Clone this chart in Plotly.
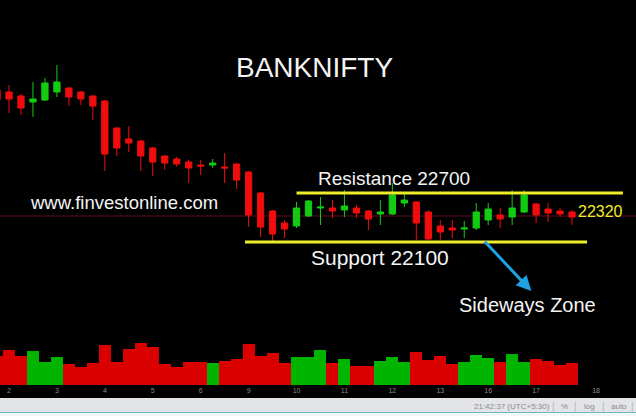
import plotly.graph_objects as go

# ---------------- data ----------------
opens  = [23580, 23560, 23520, 23460, 23480, 23560, 23600, 23560, 23520, 23470,
          23200, 23090, 23070, 23000, 22920, 22890, 22860, 22830, 22830, 22810,
          22840, 22760, 22550, 22370, 22250, 22220, 22320, 22400, 22400, 22380,
          22400, 22370, 22340, 22340, 22450, 22460, 22360, 22220, 22200, 22190,
          22200, 22280, 22330, 22310, 22360, 22440, 22390, 22370, 22360]
highs  = [23620, 23630, 23540, 23660, 23700, 23830, 23610, 23570, 23530, 23480,
          23210, 23220, 23080, 23010, 22930, 22910, 22880, 22880, 22890, 22950,
          22850, 22770, 22560, 22380, 22280, 22460, 22480, 22510, 22480, 22580,
          22430, 22380, 22480, 22650, 22550, 22470, 22380, 22280, 22280, 22270,
          22450, 22450, 22400, 22580, 22580, 22450, 22450, 22400, 22380]
lows   = [23440, 23350, 23330, 23310, 23470, 23510, 23420, 23430, 23280, 22770,
          22920, 22960, 22770, 22720, 22780, 22810, 22650, 22730, 22800, 22650,
          22590, 22210, 22110, 22070, 22100, 22200, 22310, 22230, 22300, 22310,
          22300, 22180, 22230, 22330, 22410, 22080, 22080, 22080, 22100, 22100,
          22180, 22230, 22200, 22230, 22350, 22250, 22260, 22310, 22230]
closes = [23480, 23490, 23400, 23490, 23650, 23660, 23510, 23490, 23420, 22940,
          23000, 23050, 22920, 22860, 22850, 22840, 22800, 22820, 22850, 22800,
          22680, 22330, 22210, 22140, 22190, 22400, 22470, 22410, 22370, 22420,
          22350, 22290, 22360, 22530, 22480, 22250, 22090, 22160, 22180, 22200,
          22360, 22390, 22290, 22400, 22530, 22330, 22350, 22340, 22310]
volumes = [29, 35, 29, 34, 23, 28, 21, 18, 22, 40, 23, 36, 42, 38, 21, 18, 23, 23,
           22, 24, 26, 41, 29, 32, 22, 28, 28, 35, 22, 26, 19, 19, 24, 28, 23, 33,
           25, 29, 21, 23, 30, 27, 23, 31, 23, 26, 24, 20, 22]
bars = list(range(len(opens)))

tick_positions = [1, 5, 9, 13, 17, 21, 25, 29, 33, 37, 41, 45, 50]
tick_labels = ["2", "3", "4", "5", "6", "9", "10", "11", "12", "13", "16", "17", "18"]

last_price = 22320
resistance_level = 22550
support_level = 22060
resistance_span = [25.0, 52.25]
support_span = [20.7, 49.25]

# ---------------- style ----------------
W, H = 636, 416
RED = "#f00d0d"
GREEN = "#12cc12"
VRED = "#da0000"
VGREEN = "#00b400"
YELLOW = "#eded2a"
FONT = "Liberation Sans, Arial, sans-serif"


def py(pixel):
    return 1 - pixel / H


vol_colors = [VGREEN if c >= o else VRED for o, c in zip(opens, closes)]

fig = go.Figure()
fig.add_trace(go.Bar(
    x=bars, y=volumes, width=1.0, marker=dict(color=vol_colors, line=dict(width=0)),
    yaxis="y2", showlegend=False, hoverinfo="skip"))
fig.add_trace(go.Candlestick(
    x=bars, open=opens, high=highs, low=lows, close=closes,
    increasing=dict(fillcolor=GREEN, line=dict(color=GREEN, width=1)),
    decreasing=dict(fillcolor=RED, line=dict(color=RED, width=1)),
    whiskerwidth=0, showlegend=False))

shapes = [
    # price line
    dict(type="line", xref="paper", x0=0, x1=1, yref="y", y0=last_price, y1=last_price,
         line=dict(color="#5e0f1c", width=1), layer="below"),
    # resistance / support drawings
    dict(type="line", xref="x", x0=resistance_span[0], x1=resistance_span[1], yref="y",
         y0=resistance_level, y1=resistance_level, line=dict(color=YELLOW, width=3)),
    dict(type="line", xref="x", x0=support_span[0], x1=support_span[1], yref="y",
         y0=support_level, y1=support_level, line=dict(color=YELLOW, width=3)),
    # bottom status bar
    dict(type="rect", xref="paper", yref="paper", x0=0, x1=1, y0=0, y1=py(398),
         fillcolor="#e3e4e8", line=dict(width=0)),
    dict(type="rect", xref="paper", yref="paper", x0=0, x1=1, y0=0, y1=py(413),
         fillcolor="#f4f6f8", line=dict(width=0)),
    dict(type="line", xref="paper", yref="paper", x0=0, x1=1, y0=py(412.5), y1=py(412.5),
         line=dict(color="#6cb8c8", width=1)),
]

ann = []


def txt(s, x, y, size, color="#f4f4f4", xanchor="center"):
    ann.append(dict(text=s, x=x / W, y=py(y), xref="paper", yref="paper", showarrow=False,
                    xanchor=xanchor, yanchor="middle",
                    font=dict(family=FONT, size=size, color=color)))


txt("BANKNIFTY", 314, 68, 28)
txt("Resistance 22700", 394, 178, 19)
txt("www.finvestonline.com", 124, 203, 18.5)
txt("Support 22100", 380, 257, 21)
txt(f"{last_price}", 600, 211, 16, color=YELLOW)
txt("Sideways Zone", 527, 305, 20)

# status bar texts
sb_col = "#8a8a8a"
txt("21:42:37 (UTC+5:30)", 512, 406, 8, color=sb_col)
for s, x in [("|", 553), ("%", 564), ("|", 575), ("log", 589), ("|", 603), ("auto", 619), ("|", 632)]:
    txt(s, x, 406, 8 if s != "|" else 10, color=sb_col if s != "|" else "#b8b8b8")

# arrow
ann.append(dict(x=44.6, y=21570, xref="x", yref="y", ax=-48, ay=-51, axref="pixel", ayref="pixel",
                text="", showarrow=True, arrowhead=2, arrowsize=1, arrowwidth=3,
                arrowcolor="#1fa2e2"))

x0 = 1 - 9 / 11.98
x1 = 1 + (W - 9) / 11.98

fig.update_layout(
    width=W, height=H, margin=dict(l=0, r=0, t=0, b=0),
    paper_bgcolor="#000000", plot_bgcolor="#000000",
    xaxis=dict(range=[x0, x1], domain=[0, 1], anchor="y", showgrid=False, zeroline=False,
               showline=False, tickvals=tick_positions, ticktext=tick_labels, ticks="",
               tickfont=dict(family=FONT, size=7, color="#8a8a8a"),
               rangeslider=dict(visible=False), fixedrange=True),
    yaxis=dict(domain=[py(385), 1], range=[24480 - 10 * 385, 24480], visible=False,
               showgrid=False, zeroline=False),
    yaxis2=dict(overlaying="y", range=[0, 385], visible=False, showgrid=False, zeroline=False),
    shapes=shapes, annotations=ann, bargap=0, boxgap=0.25, showlegend=False,
)

fig.write_html(
    "out.html",
    config={"displayModeBar": False},
    post_script="document.body.style.margin='0';document.body.style.overflow='hidden';"
                "document.documentElement.style.overflow='hidden';",
)
